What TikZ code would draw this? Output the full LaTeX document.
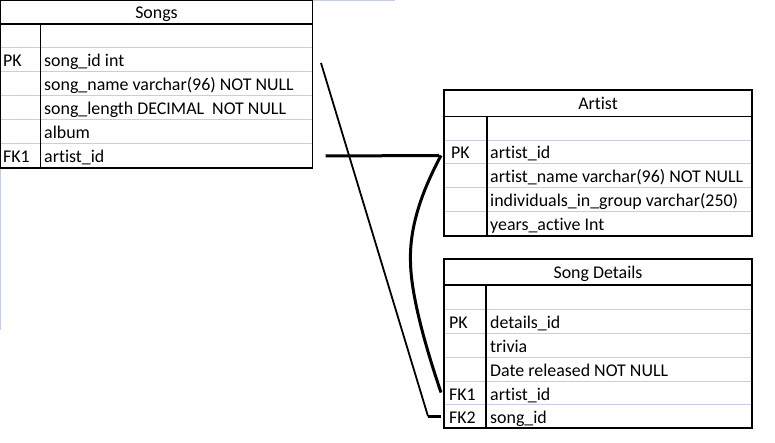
\documentclass[tikz,border=0pt]{standalone}
\usepackage{fontspec}
\setmainfont{Carlito}[Ligatures={NoCommon}]
\definecolor{sepc}{RGB}{200,206,226}
\tikzset{
  frame/.style={draw=black, line width=1.3pt},
  sepline/.style={draw=sepc, line width=1pt},
  divline/.style={draw=black, line width=1.2pt},
  txt/.style={anchor=base west, inner sep=0pt, font=\fontsize{17.9}{21}\selectfont},
  ttl/.style={anchor=base, inner sep=0pt, font=\fontsize{17.9}{21}\selectfont},
  rowbox/.style={inner sep=0pt, outer sep=0pt, minimum height=24pt, anchor=south west},
  thickconn/.style={line width=3pt, line cap=butt},
  thinconn/.style={line width=1.8pt}
}
\begin{document}
\begin{tikzpicture}[x=1pt,y=-1pt]
\useasboundingbox (0,0) rectangle (775,443);

% faint artifact lines
\draw[sepline] (312,0.5) -- (395,0.5);
\draw[sepline] (0.6,168) -- (0.6,330);

% ================= Songs =================
\draw[frame] (0.7,0.7) rectangle (312.5,168);
\draw[divline] (0.7,24) -- (312.5,24);
\foreach \y in {48,72,96,120,144} \draw[sepline] (1.4,\y) -- (311.8,\y);
\draw[divline] (40.7,24) -- (40.7,168);
\node[ttl] (sTitle) at (156.5,18.5) {Songs};
\node[rowbox, minimum width=311.8pt] (sPK)  at (0.7,72) {};
\node[rowbox, minimum width=311.8pt] (sFK1) at (0.7,168) {};
\node[txt] (sk1) at (3,67) {PK};
\node[txt] (sv1) at (44,67) {song\_id int};
\node[txt] (sv2) at (44,91) {song\_name varchar(96) NOT NULL};
\node[txt] (sv3) at (44,115) {song\_length DECIMAL\ \ NOT NULL};
\node[txt] (sv4) at (44,139) {album};
\node[txt] (sk5) at (3,163) {FK1};
\node[txt] (sv5) at (44,163) {artist\_id};

% ================= Artist =================
\draw[frame] (444,90) rectangle (752,236);
\draw[divline] (444,116.5) -- (752,116.5);
\foreach \y in {140.5,164,188,212} \draw[sepline] (444.7,\y) -- (751.3,\y);
\draw[divline] (487,116.5) -- (487,236);
\node[ttl] (aTitle) at (598,110) {Artist};
\node[rowbox, minimum width=308pt] (aPK) at (444,164) {};
\node[txt] (ak1) at (451,159) {PK};
\node[txt] (av1) at (490,159) {artist\_id};
\node[txt] (av2) at (490,183) {artist\_name varchar(96) NOT NULL};
\node[txt] (av3) at (490,207) {individuals\_in\_group varchar(250)};
\node[txt] (av4) at (490,231) {years\_active Int};

% ================= Song Details =================
\draw[frame] (444,259) rectangle (752,428);
\draw[divline] (444,285) -- (752,285);
\foreach \y in {309,333,357,381,404.5} \draw[sepline] (444.7,\y) -- (751.3,\y);
\draw[divline] (486,285) -- (486,428);
\node[ttl] (dTitle) at (598,279) {Song Details};
\node[rowbox, minimum width=308pt] (dFK1) at (444,404.5) {};
\node[rowbox, minimum width=308pt, minimum height=23.5pt] (dFK2) at (444,428) {};
\node[txt] (dk1) at (449,328) {PK};
\node[txt] (dv1) at (490,328) {details\_id};
\node[txt] (dv2) at (490,352) {trivia};
\node[txt] (dv3) at (490,376) {Date released NOT NULL};
\node[txt] (dk4) at (449,400) {FK1};
\node[txt] (dv4) at (490,400) {artist\_id};
\node[txt] (dk5) at (449,423) {FK2};
\node[txt] (dv5) at (490,423) {song\_id};

% ================= Connectors =================
\coordinate (bend) at (410.5,262);
\coordinate (dstart) at (321,63);
\coordinate (elbow) at ([xshift=-16pt]dFK2.west);

\draw[thickconn] ([xshift=13pt]sFK1.east) -- ([xshift=-5pt,yshift=-3.5pt]aPK.west);
\draw[thickconn] ([xshift=-3pt,yshift=-3.5pt]aPK.west) .. controls (428,180) and (409,220) .. (bend)
   .. controls (411,300) and (430,360) .. ([xshift=-3pt]dFK1.west);
\draw[thinconn] (dstart) -- (elbow);
\draw[thickconn] (elbow) -- ([xshift=-3pt]dFK2.west);
\end{tikzpicture}
\end{document}
